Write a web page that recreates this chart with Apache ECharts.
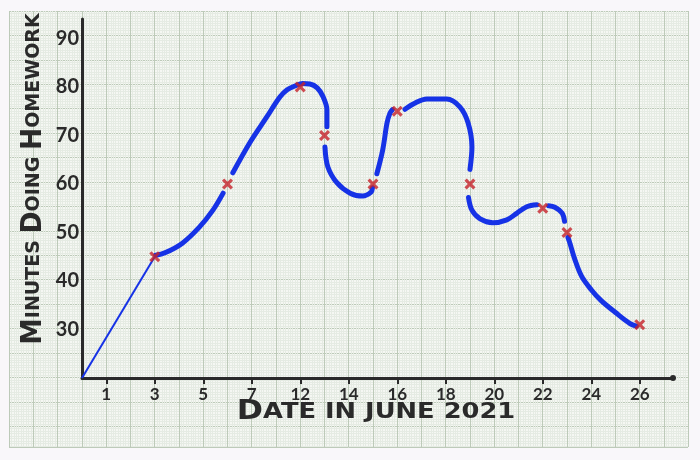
<!DOCTYPE html>
<html>
<head>
<meta charset="utf-8">
<script src="https://cdn.jsdelivr.net/npm/echarts@6/dist/echarts.min.js"></script>
<style>
html,body{margin:0;padding:0;background:#f9f7fa;}
#chart{width:700px;height:460px;}
</style>
</head>
<body>
<div id="chart"></div>
<script>
// ---- data ----
// tick labels on the (non-linear) date axis
const tickDates = [1, 3, 5, 7, 12, 14, 16, 18, 20, 22, 24, 26];
const tickLabels = tickDates.map(String);
// plotted marks (red crosses): date in June 2021, minutes doing homework
const markDates = [3, 6, 12, 13, 15, 16, 19, 22, 23, 26];
const markMinutes = [45, 60, 80, 70, 60, 75, 60, 55, 50, 31];
// y axis
const yMin = 20, yMax = 94, yStep = 10;
// origin of the axes (position, minutes)
const originPos = -0.5, originMinutes = 20;
// hand-drawn pen strokes: [axis position, minutes]
const penStrokes = [
  [[1.02,45.3],[1.21,45.8],[1.57,47.8],[1.92,51.1],[2.20,54.6],[2.41,58.1]],
  [[2.61,62.3],[2.96,68.5],[3.31,73.8],[3.58,77.9],[3.73,79.4],[3.89,80.2],[4.05,80.7],[4.20,80.6],[4.35,79.8],[4.47,78.0],[4.55,75.3],[4.55,71.8]],
  [[4.51,67.6],[4.57,63.5],[4.76,60.2],[5.03,58.1],[5.29,57.5],[5.46,58.3],[5.49,59.2]],
  [[5.58,62.1],[5.70,67.0],[5.79,72.6],[5.85,74.6],[5.90,75.3]],
  [[6.16,75.4],[6.35,76.6],[6.61,77.5],[7.02,77.5],[7.29,75.9],[7.46,72.6],[7.54,67.6],[7.50,63.0]],
  [[7.47,57.2],[7.54,54.6],[7.71,52.8],[7.97,52.0],[8.26,52.6],[8.47,54.0],[8.67,55.3],[8.88,55.7]],
  [[9.12,55.5],[9.25,55.2],[9.40,54.0],[9.45,52.3]],
  [[9.52,49.0],[9.56,47.8],[9.66,44.5],[9.80,41.0],[10.0,38.2],[10.2,36.0],[10.5,33.5],[10.8,31.2],[10.93,30.7]]
];

// position of a date on the (uneven) date axis: index between tick labels
function posOf(d) {
  for (let i = 0; i < tickDates.length - 1; i++) {
    if (d >= tickDates[i] && d <= tickDates[i + 1]) {
      return i + (d - tickDates[i]) / (tickDates[i + 1] - tickDates[i]);
    }
  }
  return tickDates.length - 1;
}

const INK = '#2a2a2a';
const BLUE = '#1632e6';
const RED = '#c62229';
const crossPath = 'path://M2,0 L5,3 L8,0 L10,2 L7,5 L10,8 L8,10 L5,7 L2,10 L0,8 L3,5 L0,2 Z';

const chart = echarts.init(document.getElementById('chart'), null, {renderer: 'canvas'});

const paperSplit = {show: true, lineStyle: {color: '#bdcab9', width: 1}};
const paperMinor = {show: true, lineStyle: {color: '#e5ebe3', width: 1}};

const series = [];
// thin straight stroke from the origin to the first mark
series.push({
  type: 'line', xAxisIndex: 1, yAxisIndex: 1,
  data: [[originPos, originMinutes], [posOf(markDates[0]), markMinutes[0]]],
  symbol: 'none', lineStyle: {color: BLUE, width: 2}, z: 3, silent: true
});
penStrokes.forEach(s => {
  series.push({
    type: 'line', xAxisIndex: 1, yAxisIndex: 1, data: s,
    smooth: 0.35, symbol: 'none',
    lineStyle: {color: BLUE, width: 5, cap: 'round', join: 'round'}, z: 3, silent: true
  });
});
series.push({
  type: 'scatter', xAxisIndex: 1, yAxisIndex: 1,
  data: markDates.map((d, i) => [posOf(d), markMinutes[i]]),
  symbol: crossPath, symbolSize: 11,
  itemStyle: {color: RED}, z: 5, silent: true
});

const titleFont = 'DejaVu Sans';

chart.setOption({
  animation: false,
  backgroundColor: '#f9f7fa',
  grid: [
    {left: 9, top: 11, width: 679, height: 436, show: true, backgroundColor: '#f5f7f3', borderWidth: 0},
    {left: 82, top: 19, right: 27, bottom: 82},
    {left: 82, top: 19, width: 582, bottom: 82}
  ],
  xAxis: [
    {gridIndex: 0, type: 'value', min: 0, max: 28, interval: 1,
     axisLine: {show: false}, axisTick: {show: false}, axisLabel: {show: false},
     splitLine: paperSplit, minorTick: {show: false, splitNumber: 10}, minorSplitLine: paperMinor},
    {gridIndex: 1, type: 'value', min: originPos, max: 11.686,
     axisLine: {show: true, onZero: false, lineStyle: {color: INK, width: 3}, symbol: ['none', 'circle'], symbolSize: [6, 6]},
     axisTick: {show: false}, axisLabel: {show: false}, splitLine: {show: false}},
    {gridIndex: 2, type: 'category', data: tickLabels, boundaryGap: true,
     axisLine: {show: false, onZero: false},
     axisTick: {show: true, alignWithLabel: true, length: 6, lineStyle: {color: INK, width: 2}},
     axisLabel: {margin: 8, color: INK, fontFamily: 'Lato', fontWeight: 'bold', fontSize: 17},
     splitLine: {show: false}}
  ],
  yAxis: [
    {gridIndex: 0, type: 'value', inverse: true, min: 0, max: 17.85, interval: 1,
     axisLine: {show: false}, axisTick: {show: false}, axisLabel: {show: false},
     splitLine: paperSplit, minorTick: {show: false, splitNumber: 10}, minorSplitLine: paperMinor},
    {gridIndex: 1, type: 'value', min: yMin, max: yMax, interval: yStep,
     axisLine: {show: true, onZero: false, lineStyle: {color: INK, width: 3}},
     axisTick: {show: false}, splitLine: {show: false},
     axisLabel: {margin: 3, color: INK, fontFamily: 'Lato', fontWeight: 'bold', fontSize: 20,
       formatter: v => (v % yStep === 0 && v !== yMin) ? String(v) : ''}},
    {gridIndex: 2, type: 'value', show: false}
  ],
  graphic: [
    {type: 'text', x: 34, y: 179, rotation: Math.PI / 2, scaleX: 0.95, z: 10,
     style: {text: '{b|M}{s|INUTES }{b|D}{s|OING }{b|H}{s|OMEWORK}', align: 'center', verticalAlign: 'middle',
       rich: {b: {fontFamily: titleFont, fontWeight: 'bold', fontSize: 28, fill: INK, color: INK},
              s: {fontFamily: titleFont, fontWeight: 'bold', fontSize: 20, fill: INK, color: INK}}}},
    {type: 'text', x: 376, y: 412, scaleX: 1.17, z: 10,
     style: {text: '{b|D}{s|ATE IN JUNE 2021}', align: 'center', verticalAlign: 'middle',
       rich: {b: {fontFamily: titleFont, fontWeight: 'bold', fontSize: 27, fill: INK, color: INK},
              s: {fontFamily: titleFont, fontWeight: 'bold', fontSize: 22, fill: INK, color: INK}}}}
  ],
  series: series
});
</script>
</body>
</html>
